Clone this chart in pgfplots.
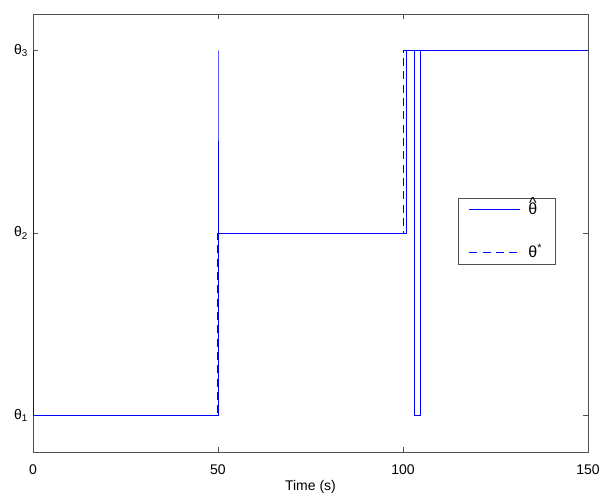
\documentclass[border=0pt]{standalone}
\usepackage{fontspec}
\setmainfont{Liberation Sans}
\usepackage{pgfplots}
\pgfplotsset{compat=1.18}

\definecolor{mblue}{RGB}{0,0,255}
\definecolor{maxis}{RGB}{80,80,80}

\newcommand{\thetahat}{\ooalign{θ\cr\hidewidth\raisebox{4.5pt}{\^{}}\hidewidth\cr}}

\begin{document}
\fontsize{10.5}{12}\selectfont
\begin{tikzpicture}
\useasboundingbox (-24.75pt,-31.5pt) rectangle (428.25pt,339pt);
\begin{axis}[
    scale only axis,
    width=416.25pt,
    height=328.5pt,
    xmin=0, xmax=150,
    ymin=0.8, ymax=3.2,
    xtick={0,50,100,150},
    ytick={1,2,3},
    yticklabels={θ\textsubscript{1}, θ\textsubscript{2}, θ\textsubscript{3}},
    xlabel={Time (s)},
    xticklabel style={yshift=-6pt},
    xlabel style={yshift=3pt},
    tick align=inside,
    major tick length=3.75pt,
    axis line style={maxis, line width=0.6pt},
    tick style={maxis, line width=0.6pt},
    /pgf/number format/assume math mode=true,
    legend style={
        at={(0.942,0.58)},
        anchor=north east,
        draw=maxis,
        fill=white,
        font=\fontsize{12}{14}\selectfont,
        row sep=17pt,
        inner xsep=8pt,
        inner ysep=1.5pt,
        /tikz/every odd column/.append style={column sep=4pt},
    },
    legend cell align=left,
    legend image code/.code={\draw[#1] (0pt,0pt) -- (38pt,0pt);},
]

% estimated parameter
\addplot[draw=mblue, line width=0.7pt, solid] coordinates {
    (0,3) (0,1) (50,1) (50,3) (50,2) (101,2) (101,3)
    (103.2,3) (103.2,1) (104.8,1) (104.8,3) (150,3)
};
\addlegendentry{\thetahat}

% true parameter
\addplot[draw=mblue, line width=0.7pt, dash=on 6pt off 4pt phase 0pt] coordinates {
    (0,1) (49.9,1) (49.9,2) (100.1,2) (100.1,3) (150,3)
};
\addlegendentry{θ\textsuperscript{*}}

\end{axis}
\end{tikzpicture}
\end{document}
